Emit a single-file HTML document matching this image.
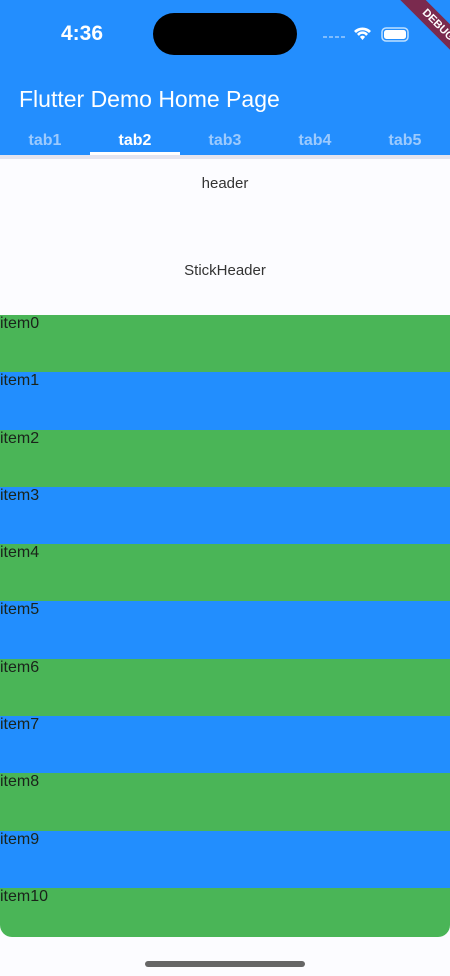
<!DOCTYPE html>
<html><head><meta charset="utf-8">
<style>
html,body{margin:0;padding:0;}
body{width:450px;height:976px;overflow:hidden;background:#fcfcff;font-family:"Liberation Sans",sans-serif;position:relative;}
#appbar{position:absolute;left:0;top:0;width:450px;height:155px;background:#238efe;}
.abs{position:absolute;}
#time{left:61px;top:22px;color:#fff;font-size:21px;font-weight:600;}
#island{left:153px;top:13px;width:144px;height:42px;border-radius:21px;background:#000;}
#title{left:19px;top:86px;color:#fff;font-size:23px;}
.tab{position:absolute;top:132px;width:90px;text-align:center;font-size:16px;font-weight:bold;color:#9ccafd;}
.tab.sel{color:#fff;}
#ind{left:90px;top:152px;width:90px;height:3px;background:#fff;}
#sep{left:0;top:155px;width:450px;height:4px;background:#e4e4ee;}
#ribbon{left:383px;top:16px;width:110px;height:18px;background:#7a2a4e;transform:rotate(45deg);color:#fff;font-size:11px;font-weight:bold;text-align:center;line-height:18px;}
#header{left:0;top:175px;width:450px;text-align:center;font-size:15px;color:#333;}
#stick{left:0;top:262px;width:450px;text-align:center;font-size:15px;color:#333;}
#list{position:absolute;left:0;top:315px;width:450px;border-radius:0 0 12px 12px;overflow:hidden;}
.row{width:450px;font-size:16px;color:#1a231a;box-sizing:border-box;}
#home{left:145px;top:961px;width:160px;height:6px;border-radius:3px;background:#666;}
</style></head><body>
<div id="appbar"></div>
<div class="abs" id="time">4:36</div>
<div class="abs" id="island"></div>
<svg class="abs" style="left:320px;top:26px" width="100" height="16">
<g fill="#7fbcfd"><rect x="3" y="10" width="4" height="2"/><rect x="9" y="10" width="4" height="2"/><rect x="15" y="10" width="4" height="2"/><rect x="21" y="10" width="4" height="2"/></g>
<path d="M34 5 a12 12 0 0 1 17 0 l-2 2 a9 9 0 0 0 -13 0z M37 8 a7 7 0 0 1 11 0 l-2 2 a4 4 0 0 0 -7 0z M40 11 l2.5 3 l2.5 -3 a3 3 0 0 0 -5 0z" fill="#fff"/>
<rect x="62" y="2" width="26" height="13" rx="4" fill="none" stroke="#bfe0ff" stroke-width="1.5"/>
<rect x="64" y="4" width="22" height="9" rx="2.5" fill="#fff"/>
</svg>
<div class="abs" id="ribbon">DEBUG</div>
<div class="abs" id="title">Flutter Demo Home Page</div>
<div class="tab" style="left:0">tab1</div>
<div class="tab sel" style="left:90px">tab2</div>
<div class="tab" style="left:180px">tab3</div>
<div class="tab" style="left:270px">tab4</div>
<div class="tab" style="left:360px">tab5</div>
<div class="abs" id="ind"></div>
<div class="abs" id="sep"></div>
<div class="abs" id="header">header</div>
<div class="abs" id="stick">StickHeader</div>
<div id="list"></div>
<div class="abs" id="home"></div>
<script>
const items=["item0","item1","item2","item3","item4","item5","item6","item7","item8","item9","item10"];
const rowColors=["#4ab557","#228efe"];
const list=document.getElementById('list');
const rowH=57.3;
items.forEach((t,i)=>{
  const d=document.createElement('div');
  d.className='row';
  d.style.height=(i===items.length-1?49:rowH)+'px';
  d.style.background=rowColors[i%2];
  d.textContent=t;
  
  
  list.appendChild(d);
});
</script>
</body></html>
